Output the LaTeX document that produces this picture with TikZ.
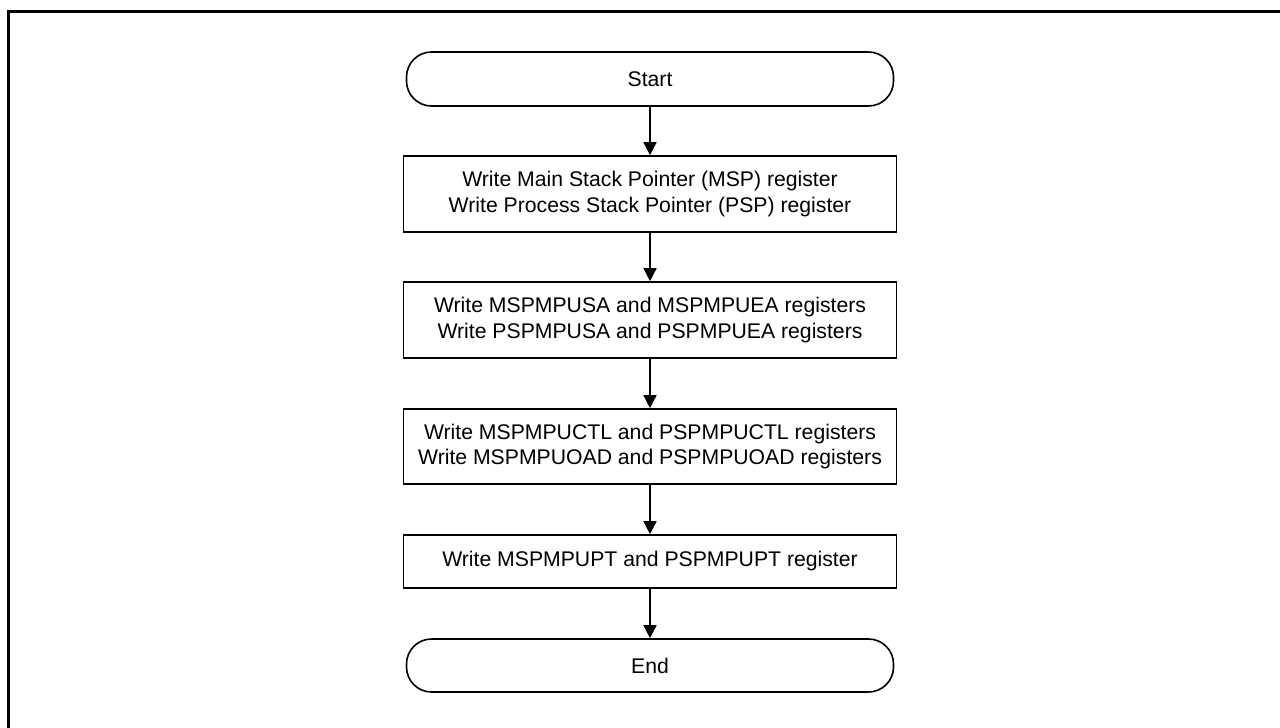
\documentclass[tikz,border=0pt]{standalone}
\usepackage{fontspec}
\setmainfont{Liberation Sans}
\usetikzlibrary{arrows.meta}
\begin{document}
\begin{tikzpicture}[x=1pt,y=-1pt,
  every node/.style={font=\fontsize{21.2}{25.5}\selectfont, align=center, inner sep=0pt},
  procbox/.style={draw, line width=1.6pt, minimum width=493pt},
  termbox/.style={draw, line width=1.6pt, rounded corners=25pt, minimum width=487pt, minimum height=54pt},
  flow/.style={line width=1.4pt, -{Triangle[width=13pt,length=13pt]}}]
\useasboundingbox (0,0) rectangle (1280,728);
\draw[line width=3pt] (8,728) coordinate (bl) -- (8,11) coordinate (tl) -- (1280,11) coordinate (tr);
\node[termbox] (start) at (650,79) {Start};
\node[procbox, minimum height=76pt] (b1) at (650,194) {Write Main Stack Pointer (MSP) register\\Write Process Stack Pointer (PSP) register};
\node[procbox, minimum height=76pt] (b2) at (650,320) {Write MSPMPUSA and MSPMPUEA registers\\Write PSPMPUSA and PSPMPUEA registers};
\node[procbox, minimum height=75pt] (b3) at (650,446.5) {Write MSPMPUCTL and PSPMPUCTL registers\\Write MSPMPUOAD and PSPMPUOAD registers};
\node[procbox, minimum height=53pt] (b4) at (650,561.5) {Write MSPMPUPT and PSPMPUPT register};
\node[termbox, minimum height=53pt] (end) at (650,665.5) {End};
\draw[flow] (start) -- (b1);
\draw[flow] (b1) -- (b2);
\draw[flow] (b2) -- (b3);
\draw[flow] (b3) -- (b4);
\draw[flow] (b4) -- (end);
\end{tikzpicture}
\end{document}
